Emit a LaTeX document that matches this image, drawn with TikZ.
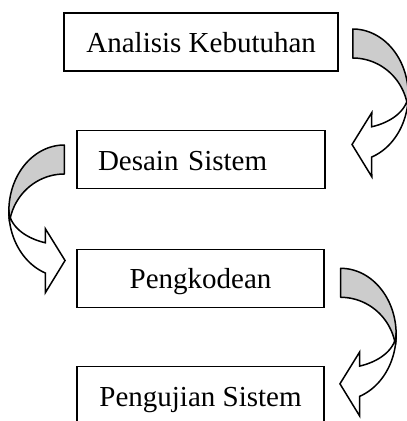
\documentclass[tikz,border=0pt]{standalone}
\usepackage{fontspec}
\setmainfont{Liberation Serif}
\begin{document}
\begin{tikzpicture}[x=1pt,y=-1pt,
  boxa/.style={draw=black, line width=1.3pt, minimum height=58pt, inner sep=0pt,
    text height=21pt, text depth=0pt, font=\fontsize{29}{34}\selectfont},
  curvarrow/.pic={
    \filldraw[fill=black!20, draw=black, line width=1.5pt, line join=round]
      (0,0) -- plot[domain=-90:9.24, samples=40] ({55.5*cos(\x)},{66+66*sin(\x)})
      -- plot[domain=-9.24:-90, samples=40] ({55.5*cos(\x)},{85.7+56.7*sin(\x)}) -- cycle;
    \filldraw[fill=white, draw=black, line width=1.5pt, line join=miter]
      plot[domain=0:70, samples=40] ({55.5*cos(\x)},{66+66*sin(\x)})
      -- (19,147.7) -- (-0.7,115.5) -- (19,83.7)
      -- plot[domain=70:0, samples=40] ({55.5*cos(\x)},{64.7+35.2*sin(\x)}) -- cycle;
  }]
\useasboundingbox (0,0) rectangle (407,421);
\clip (0,0) rectangle (407,421);
\node[boxa, line width=2pt, minimum width=274.3pt] (n1) at (201.2,41.7) {Analisis Kebutuhan};
\node[boxa, minimum width=248pt, text width=206pt, inner xsep=21pt, align=left] (n2) at (201,159.5) {Desain Sistem};
\node[boxa, minimum width=247pt] (n3) at (200.5,278.3) {Pengkodean};
\node[boxa, minimum width=247pt] (n4) at (200.5,395.5) {Pengujian Sistem};
\path ([xshift=13.4pt, yshift=12.7pt]n1.east) pic {curvarrow};
\path ([xshift=-12pt, yshift=14.5pt]n2.west) pic[xscale=-1] {curvarrow};
\path ([xshift=16pt, yshift=10pt]n3.east) pic {curvarrow};
\end{tikzpicture}
\end{document}
